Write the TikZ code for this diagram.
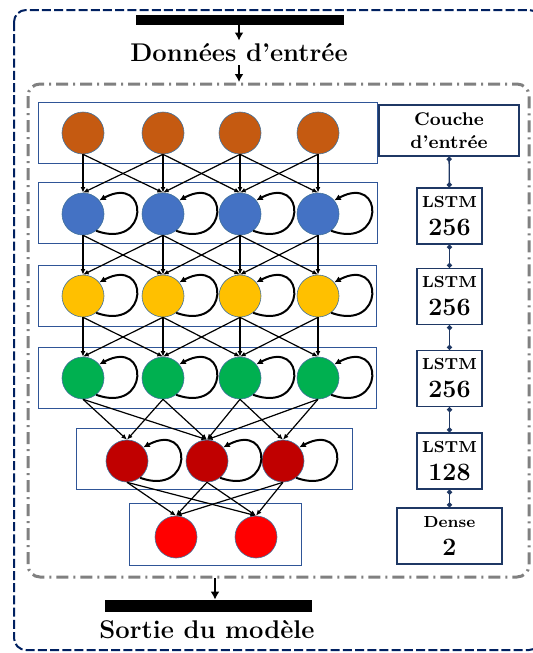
\documentclass[tikz,border=0pt]{standalone}
\usetikzlibrary{arrows.meta}

\definecolor{cin}{HTML}{C55A11}
\definecolor{cla}{HTML}{4472C4}
\definecolor{clb}{HTML}{FFC000}
\definecolor{clc}{HTML}{00B050}
\definecolor{cld}{HTML}{C00000}
\definecolor{cout}{HTML}{FF0000}
\definecolor{cedge}{HTML}{41719C}
\definecolor{clayer}{HTML}{2F5597}
\definecolor{cnavy}{HTML}{1F3864}
\definecolor{cframe}{HTML}{002060}
\definecolor{cgrey}{HTML}{808080}

\tikzset{
  neuron/.style={circle, minimum size=21pt, inner sep=0pt, draw=cedge, line width=0.3pt},
  layerbox/.style={draw=clayer, line width=0.5pt},
  syn/.style={-{Latex[length=2.8pt,width=2.4pt]}, line width=0.6pt},
  selfloop/.style={-{Latex[length=3.2pt,width=3.2pt]}, line width=1pt},
  tag/.style={draw=cnavy, line width=0.7pt, align=center, inner sep=0pt, font=\bfseries},
  link/.style={{Circle[length=2.5pt]}-{Circle[length=2.5pt]}, draw=cnavy, line width=0.7pt},
  bar/.style={fill=black, inner sep=0pt},
  flow/.style={-{Latex[length=4pt,width=4.5pt]}, line width=0.8pt},
  title/.style={font=\bfseries\fontsize{12.8}{15}\selectfont, inner sep=1.5pt},
}

\begin{document}
\begin{tikzpicture}[x=0.5pt, y=0.5pt]
    \useasboundingbox (0,0) rectangle (532,-653);

    % Frames
    \draw[draw=cframe, line width=1pt, dash pattern=on 4.5pt off 1.6pt, rounded corners=6pt] (14,-10) rectangle (541,-650);
    \draw[draw=cgrey, line width=1.5pt, dash pattern=on 6pt off 2.5pt on 1pt off 2.5pt, rounded corners=6pt] (28,-84) rectangle (529,-577);

    % Input and output
    \node[bar, minimum width=104pt, minimum height=5pt] (inbar) at (240,-20) {};
    \node[title] (intext) at (239,-53) {Données d'entrée};
    \coordinate (innertop) at (239,-82);
    \draw[flow] (inbar.south -| intext) -- (intext);
    \draw[flow] (intext) -- (innertop);

    \node[bar, minimum width=103.5pt, minimum height=6pt] (outbar) at (208.5,-606) {};
    \node[title] (outtext) at (207,-630) {Sortie du modèle};
    \coordinate (innerbot) at (215,-578);
    \draw[flow] (innerbot) -- (innerbot |- outbar.north);

    % Layer boxes
    \draw[layerbox] (38,-102) rectangle (377,-163);
    \draw[layerbox] (38,-182) rectangle (377,-243);
    \draw[layerbox] (38,-265) rectangle (376,-326);
    \draw[layerbox] (38,-347) rectangle (376,-408);
    \draw[layerbox] (76,-428) rectangle (352,-489);
    \draw[layerbox] (129,-503) rectangle (301,-565);

    % Neurons
    \foreach \i/\x in {1/83, 2/163, 3/240, 4/318} {
        \node[neuron, fill=cin] (in\i) at (\x,-133) {};
        \node[neuron, fill=cla] (la\i) at (\x,-214) {};
        \node[neuron, fill=clb] (lb\i) at (\x,-296) {};
        \node[neuron, fill=clc] (lc\i) at (\x,-378) {};
    }
    \foreach \i/\x in {1/127, 2/207, 3/283}
        \node[neuron, fill=cld] (ld\i) at (\x,-461) {};
    \foreach \i/\x in {1/176, 2/256}
        \node[neuron, fill=cout] (out\i) at (\x,-537) {};

    % Connections
    \foreach \i/\j in {1/1,1/2,2/1,2/2,2/3,3/2,3/3,3/4,4/3,4/4} {
        \draw[syn] (in\i.south) -- (la\j.north);
        \draw[syn] (la\i.south) -- (lb\j.north);
        \draw[syn] (lb\i.south) -- (lc\j.north);
    }
    \foreach \i/\j in {1/1,1/2,2/1,2/2,3/2,3/3,4/2,4/3}
        \draw[syn] (lc\i.south) -- (ld\j.north);
    \foreach \i in {1,2,3}
        \foreach \j in {1,2}
            \draw[syn] (ld\i.south) -- (out\j.north);

    % Recurrent loops
    \foreach \n in {la1,la2,la3,la4,lb1,lb2,lb3,lb4,lc1,lc2,lc3,lc4,ld1,ld2,ld3}
        \draw[selfloop] (\n.-52) .. controls +(-20:57) and +(28:57) .. (\n.40);

    % Layer tags
    \node[tag, minimum width=70pt, minimum height=25.5pt, font=\bfseries\fontsize{9.2}{11.5}\selectfont] (tagin) at (449,-130.5) {Couche\\d'entrée};
    \foreach \k/\y/\u in {1/-216/256, 2/-296.5/256, 3/-378.5/256, 4/-461/128}
        \node[tag, minimum width=32.5pt, minimum height=28pt] (tag\k) at (449.5,\y)
            {\fontsize{8}{10}\selectfont LSTM\\[2pt]\fontsize{12.5}{13}\selectfont \u};
    \node[tag, minimum width=52.5pt, minimum height=28pt] (tagout) at (449.5,-536)
        {\fontsize{8}{10}\selectfont Dense\\[2pt]\fontsize{12.5}{13}\selectfont 2};

    \draw[link] (tagin) -- (tag1);
    \draw[link] (tag1) -- (tag2);
    \draw[link] (tag2) -- (tag3);
    \draw[link] (tag3) -- (tag4);
    \draw[link] (tag4) -- (tagout);
\end{tikzpicture}
\end{document}
